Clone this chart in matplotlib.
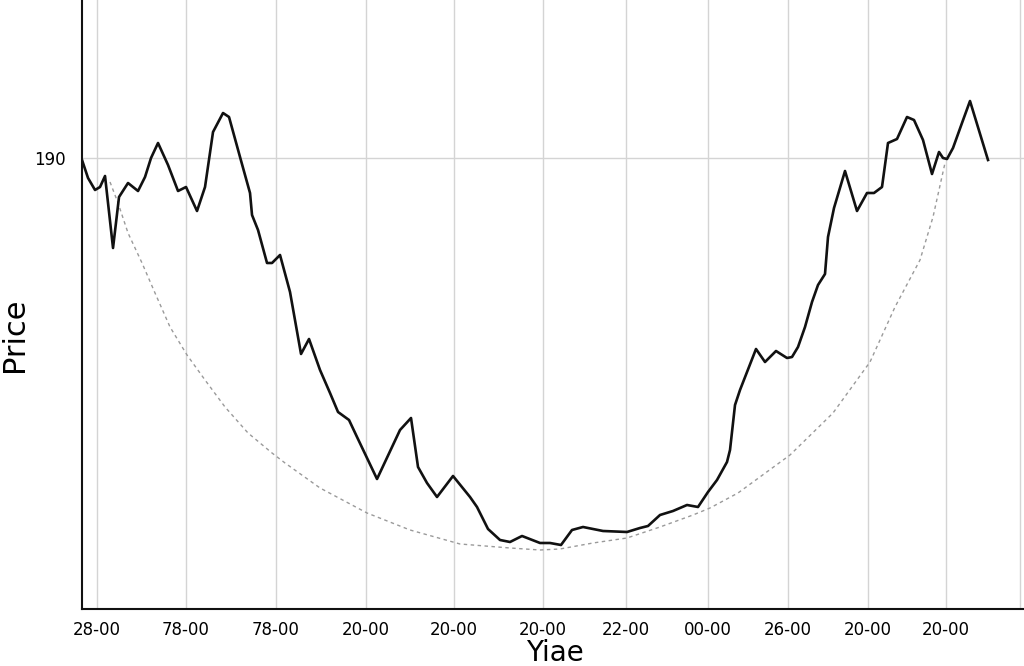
import matplotlib
matplotlib.use("Agg")
import matplotlib.pyplot as plt

# time axis (minutes from start) and price
t = [0, 6, 13, 18, 23, 31, 37, 46, 56, 63, 69, 76, 86, 96, 104, 115, 123,
     131, 141, 147, 158, 168, 170, 176, 185, 190, 198, 208, 219, 227, 238,
     248, 256, 267, 275, 295, 318, 329, 336, 345, 355, 371, 388, 395, 406,
     418, 428, 440, 458, 468, 479, 490, 501, 521, 545, 558, 566, 578, 591,
     605, 616, 626, 635, 645, 648, 653, 658, 674, 683, 694, 705, 710, 716,
     723, 730, 736, 743, 746, 752, 763, 775, 785, 792, 800, 806, 815, 825,
     832, 841, 850, 857, 861, 865, 871, 880, 888, 906]
price = [189.6, 186.0, 183.6, 184.2, 186.4, 172.0, 182.2, 185.0, 183.4, 186.2,
         190.0, 193.0, 188.6, 183.4, 184.2, 179.4, 184.2, 195.2, 199.0, 198.2,
         190.2, 183.0, 178.6, 175.6, 169.0, 169.0, 170.6, 163.2, 150.8, 153.8,
         147.6, 143.0, 139.2, 137.6, 134.2, 125.8, 135.6, 138.0, 128.2, 125.0,
         122.2, 126.4, 122.2, 120.2, 115.8, 113.6, 113.2, 114.4, 113.0, 113.0,
         112.6, 115.6, 116.2, 115.4, 115.2, 116.0, 116.4, 118.6, 119.4, 120.6,
         120.2, 123.2, 125.6, 129.2, 131.6, 140.6, 143.6, 151.8, 149.2, 151.4,
         150.0, 150.2, 152.2, 156.2, 161.2, 164.6, 166.8, 174.2, 180.0, 187.4,
         179.4, 183.0, 183.0, 184.2, 193.0, 193.8, 198.2, 197.6, 193.6, 186.8,
         191.2, 190.0, 189.8, 192.0, 197.0, 201.4, 189.6]

# rounded-bottom ("cup") guide
cup_t = [28, 36, 46, 60, 73, 88, 105, 123, 143, 166, 190, 203, 238, 285, 328,
         378, 428, 458, 478, 511, 545, 578, 611, 628, 656, 708, 751, 788, 813,
         838, 851, 863]
cup_price = [185.2, 181.0, 175.0, 169.0, 163.0, 156.2, 150.6, 145.6, 140.2,
             135.0, 131.0, 129.0, 124.0, 119.0, 115.6, 112.8, 112.0, 111.6,
             111.8, 113.0, 114.0, 116.2, 118.6, 120.0, 123.0, 130.6, 139.0,
             149.2, 160.2, 169.6, 178.2, 189.0]

tick_pos = [15, 104, 194, 284, 372, 461, 544, 626, 706, 786, 864, 938]
tick_labels = ["28-00", "78-00", "78-00", "20-00", "20-00", "20-00",
               "22-00", "00-00", "26-00", "20-00", "20-00", ""]

fig = plt.figure(figsize=(10.24, 6.66), dpi=100)
ax = fig.add_axes([0.0801, 0.0856, 0.9199, 0.9144])

ax.plot(cup_t, cup_price, color='#9a9a9a', lw=1.0, ls=(0, (2.5, 2.5)),
        zorder=2)
ax.plot(t, price, color='#111111', lw=1.9, zorder=3)

ax.set_xlim(0, 942)
ax.set_ylim(99.8, 221.6)
ax.set_xticks(tick_pos)
ax.set_xticklabels(tick_labels, fontsize=12)
ax.set_yticks([190])
ax.set_yticklabels(["190"], fontsize=12)
ax.tick_params(length=0)
ax.tick_params(axis='x', pad=9)
ax.tick_params(axis='y', pad=12)
ax.grid(True, color='#d4d4d4', lw=1.0)
ax.set_axisbelow(True)

for s in ['top', 'right']:
    ax.spines[s].set_visible(False)
for s in ['left', 'bottom']:
    ax.spines[s].set_linewidth(1.5)
    ax.spines[s].set_color('#111111')

ax.set_ylabel("Price", fontsize=22)
ax.yaxis.set_label_coords(-0.056, 0.45)
ax.set_xlabel("Yiae", fontsize=20)
ax.xaxis.set_label_coords(0.502, -0.05)

fig.savefig("out.png", dpi=100)
